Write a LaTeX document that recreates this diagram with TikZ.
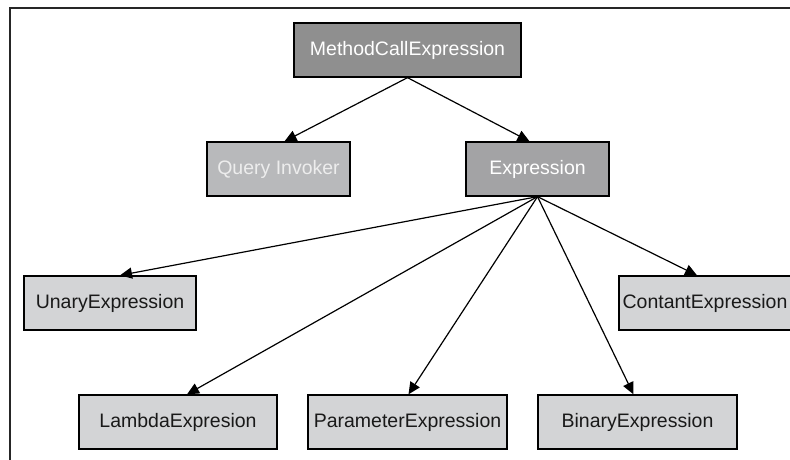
\documentclass[tikz,border=0pt]{standalone}
\usepackage{fontspec}
\setmainfont{Liberation Sans}
\usetikzlibrary{positioning,arrows.meta}

\definecolor{topgray}{HTML}{8F8F8F}
\definecolor{midgray}{HTML}{A3A3A5}
\definecolor{invgray}{HTML}{B8B9BB}
\definecolor{leafgray}{HTML}{D3D4D6}

\begin{document}
\begin{tikzpicture}[x=1pt,y=-1pt,
	box/.style={draw=black,line width=1.3pt,minimum height=54pt,inner sep=0pt,
		font=\fontsize{19.5}{22}\selectfont},
	topbox/.style={box,fill=topgray,text=white},
	midbox/.style={box,fill=midgray,text=white},
	invbox/.style={box,fill=invgray,text=black!7},
	leafbox/.style={box,fill=leafgray,text=black!90},
	link/.style={line width=1.2pt,-{Triangle[length=12pt,width=11pt]}}]
	\useasboundingbox (0,0) rectangle (790,460);
	\draw[line width=1.3pt,black!85] (10,8) rectangle (800,470);
	% top two levels
	\node[topbox,minimum width=227pt] (method) at (407.5,50) {MethodCallExpression};
	\node[invbox,minimum width=143pt] (invoker) at (278.5,169) {Query Invoker};
	\node[midbox,minimum width=143pt] (expr) at (537.5,169) {Expression};
	% leaves
	\node[leafbox,minimum width=172pt] (unary) at (110,303) {UnaryExpression};
	\node[leafbox,minimum width=172pt] (contant) at (705,303) {ContantExpression};
	\node[leafbox,minimum width=198pt] (lambda) at (178,422) {LambdaExpresion};
	\node[leafbox,minimum width=199pt] (param) at (407.5,422) {ParameterExpression};
	\node[leafbox,minimum width=199pt] (binary) at (637.5,422) {BinaryExpression};
	% connectors
	\draw[link] (method.south) -- ([xshift=6pt]invoker.north);
	\draw[link] (method.south) -- ([xshift=-8pt]expr.north);
	\draw[link] (expr.south) -- ([xshift=10pt]unary.north);
	\draw[link] (expr.south) -- ([xshift=-8pt]contant.north);
	\draw[link] (expr.south) -- ([xshift=9pt]lambda.north);
	\draw[link] (expr.south) -- ([xshift=1pt]param.north);
	\draw[link] (expr.south) -- ([xshift=-4pt]binary.north);
\end{tikzpicture}
\end{document}
